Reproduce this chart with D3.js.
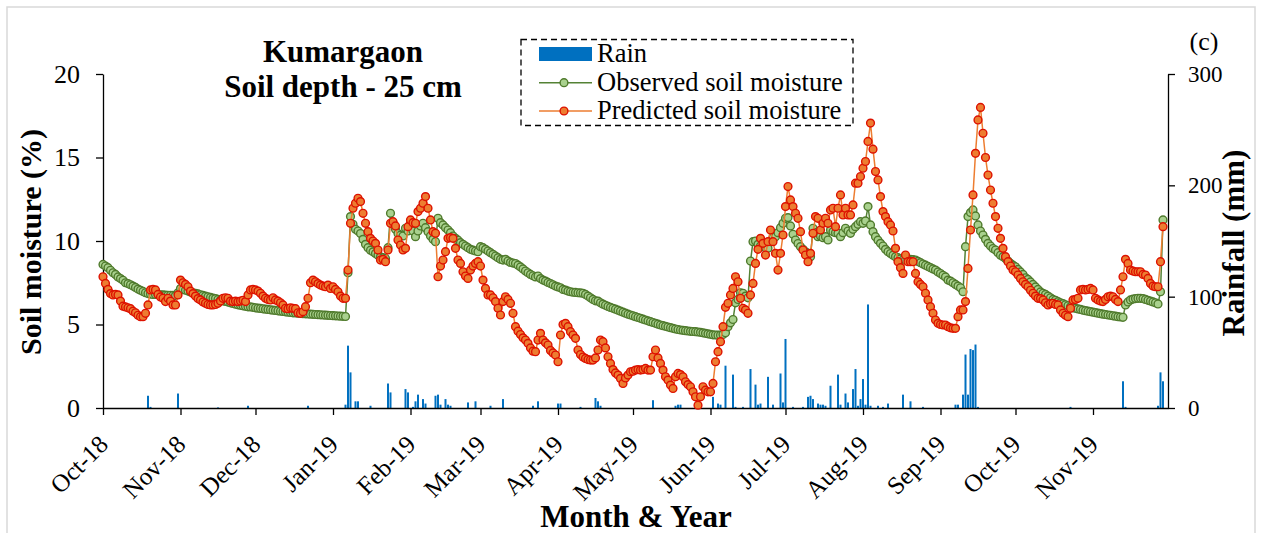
<!DOCTYPE html>
<html><head><meta charset="utf-8">
<script src="https://cdn.jsdelivr.net/npm/d3@7"></script>
<style>
body{margin:0;background:#fff}
svg{display:block}
text{font-family:"Liberation Serif","Times New Roman",serif;fill:#000}
</style>
</head><body>
<svg id="chart" width="1261" height="533"></svg>
<script>
// ---------- DATA ----------
const startYear = 2018, startMonth = 9, startDay = 1; // Oct 1 2018 (day index 0)
const monthLabels = ["Oct-18","Nov-18","Dec-18","Jan-19","Feb-19","Mar-19","Apr-19","May-19","Jun-19","Jul-19","Aug-19","Sep-19","Oct-19","Nov-19"];
const leftTicks = [0,5,10,15,20];
const rightTicks = [0,100,200,300];

// Observed soil moisture (%), daily from Oct 1 2018
const observed = [
8.6,8.5,8.4,8.25,8.1,8.0,7.85,7.75,7.65,7.5,
7.45,7.38,7.3,7.22,7.12,7.05,6.98,6.9,6.85,6.82,
6.8,6.8,6.78,6.78,6.77,6.76,6.75,6.75,6.74,6.73,
6.9,7.15,7.1,7.05,7.0,6.95,6.9,6.87,6.83,6.78,
6.74,6.7,6.66,6.62,6.58,6.55,6.5,6.46,6.42,6.38,
6.34,6.3,6.26,6.22,6.18,6.15,6.12,6.09,6.06,6.05,
6.03,6.0,5.98,5.96,5.94,5.92,5.9,5.88,5.86,5.84,
5.82,5.8,5.78,5.76,5.74,5.72,5.7,5.69,5.68,5.66,
5.65,5.64,5.63,5.62,5.61,5.6,5.59,5.58,5.57,5.56,
5.55,5.54,5.53,5.52,5.51,5.5,5.49,5.48,8.1,11.46,
11.0,10.7,10.6,10.45,10.1,9.8,9.6,9.45,9.35,9.25,
9.15,9.05,9.0,8.95,9.6,11.66,11.1,10.7,10.45,10.35,
10.3,10.76,10.6,11.06,10.6,10.26,10.6,10.9,11.06,10.8,
10.56,10.3,10.1,9.96,11.36,11.1,10.96,10.8,10.66,10.5,
10.3,10.16,10.05,9.9,9.8,9.7,9.6,9.5,9.45,9.4,
9.36,9.66,9.6,9.5,9.4,9.3,9.2,9.1,9.0,8.9,
8.86,8.9,8.8,8.72,8.68,8.65,8.55,8.45,8.33,8.2,
8.1,8.0,7.92,7.85,7.9,7.75,7.66,7.6,7.52,7.45,
7.38,7.3,7.25,7.2,7.1,7.06,7.0,6.96,6.93,6.92,
6.9,6.89,6.87,6.8,6.7,6.6,6.5,6.42,6.4,6.3,
6.22,6.15,6.08,6.02,5.97,5.92,5.86,5.8,5.74,5.68,
5.62,5.57,5.52,5.47,5.42,5.37,5.32,5.27,5.22,5.17,
5.12,5.07,5.02,4.97,4.93,4.89,4.85,4.81,4.77,4.73,
4.7,4.67,4.65,4.63,4.61,4.59,4.58,4.57,4.55,4.53,
4.5,4.47,4.44,4.41,4.38,4.37,4.36,4.36,4.4,4.5,
4.87,5.1,5.3,6.3,6.5,6.9,6.87,6.7,6.6,8.8,
9.96,10.0,9.8,9.7,9.66,9.6,9.56,10.0,10.2,10.26,
10.5,10.8,11.06,11.36,11.4,10.9,10.4,10.06,9.85,9.66,
9.5,9.35,9.26,9.06,10.76,10.5,10.26,10.3,10.2,10.26,
10.06,10.66,10.55,10.5,10.46,10.26,10.5,10.76,10.6,10.46,
10.7,10.86,11.0,11.16,11.06,11.2,12.06,10.96,10.56,10.26,
10.05,9.86,9.7,9.5,9.36,9.25,9.15,9.06,9.0,8.93,
8.86,8.86,8.9,8.9,8.88,8.86,8.78,8.7,8.62,8.55,
8.48,8.4,8.33,8.26,8.15,8.05,7.95,7.85,7.66,7.6,
7.5,7.4,7.3,7.2,6.96,9.66,11.46,11.7,11.86,11.5,
10.96,10.6,10.36,10.1,9.86,9.7,9.55,9.46,9.3,9.15,
9.06,8.95,8.8,8.66,8.55,8.46,8.3,8.15,8.0,7.8,
7.7,7.55,7.4,7.25,7.1,6.95,6.87,6.8,6.7,6.6,
6.5,6.45,6.37,6.3,6.25,6.18,6.12,6.06,6.0,5.97,
5.93,5.9,5.86,5.83,5.8,5.77,5.74,5.71,5.68,5.65,
5.62,5.6,5.57,5.55,5.52,5.5,5.47,5.45,5.43,6.17,
6.35,6.47,6.52,6.55,6.57,6.57,6.55,6.5,6.45,6.4,
6.35,6.3,6.23,6.96,11.26
];

// Predicted soil moisture (%), daily from Oct 1 2018
const predicted = [
7.86,7.46,7.1,6.85,6.77,6.8,6.77,6.4,6.1,6.05,
6.0,5.95,5.8,5.7,5.55,5.47,5.47,5.67,6.17,7.07,
7.1,7.07,6.8,6.65,6.57,6.37,6.57,6.4,6.17,6.17,
6.77,7.66,7.5,7.4,7.26,7.0,6.85,6.7,6.55,6.47,
6.35,6.27,6.2,6.17,6.17,6.2,6.27,6.4,6.57,6.6,
6.57,6.4,6.37,6.4,6.37,6.4,6.45,6.37,6.77,7.07,
7.1,7.07,7.0,6.87,6.7,6.57,6.5,6.47,6.6,6.47,
6.4,6.3,6.17,5.97,5.95,6.0,5.97,5.95,5.7,5.67,
5.77,6.07,6.57,7.5,7.66,7.56,7.45,7.36,7.3,7.26,
7.36,7.16,7.26,7.1,6.96,6.7,6.57,6.57,8.26,11.06,
11.96,12.26,12.56,12.36,11.66,11.06,10.56,10.16,10.0,9.86,
9.46,8.86,8.9,8.76,9.46,11.06,11.16,10.9,10.06,9.76,
9.46,9.56,10.86,11.26,11.1,11.06,11.76,11.96,12.26,12.66,
11.96,11.26,10.56,10.46,7.86,8.5,8.86,9.36,10.16,10.2,
10.16,9.56,8.86,8.66,8.16,7.9,7.76,8.26,8.5,8.66,
8.76,8.5,7.66,7.16,6.77,6.77,6.6,6.37,5.97,5.57,
6.37,6.66,6.5,6.27,5.67,4.87,4.6,4.4,4.2,4.07,
3.87,3.6,3.4,3.37,4.07,4.47,4.07,3.9,3.77,3.45,
3.3,3.17,2.77,4.37,5.0,5.07,4.87,4.57,4.37,4.17,
3.47,3.2,3.05,2.97,2.9,2.87,2.87,3.0,3.47,4.07,
3.97,3.6,3.07,2.67,2.3,2.1,1.97,1.77,1.47,1.8,
1.97,2.17,2.2,2.27,2.3,2.27,2.3,2.37,2.27,2.27,
3.07,3.47,3.0,2.67,2.27,1.87,1.67,1.37,1.17,1.87,
2.07,2.0,1.87,1.57,1.4,1.27,0.97,0.67,0.17,0.67,
1.27,1.07,0.97,0.97,1.47,2.77,3.37,3.97,4.87,6.03,
6.27,6.77,7.16,7.86,7.56,6.57,5.97,5.87,5.67,6.77,
7.46,8.66,9.5,10.16,9.86,9.16,9.96,10.66,9.96,9.26,
8.26,9.26,10.36,12.06,13.26,12.46,12.06,11.66,11.36,10.56,
9.46,9.16,8.76,9.26,10.46,11.46,11.36,10.66,11.06,11.36,
11.06,11.86,11.96,10.86,11.96,12.76,11.56,11.96,11.56,11.56,
12.16,13.46,13.46,13.86,14.36,14.76,15.96,17.06,15.5,14.16,
13.66,12.66,11.76,11.46,11.16,10.96,10.6,9.56,8.76,8.4,
8.06,9.16,8.76,8.76,8.76,8.06,7.56,7.4,7.26,6.87,
6.47,6.07,5.67,5.27,5.07,5.0,4.97,4.97,4.87,4.8,
4.77,4.77,5.47,5.87,5.87,6.37,8.36,10.66,12.76,15.25,
17.25,18.0,16.45,15.0,13.95,13.05,12.26,11.46,10.76,10.16,
9.56,9.06,8.76,8.5,8.26,8.16,7.96,7.76,7.56,7.4,
7.26,7.05,6.87,6.7,6.57,6.55,6.47,6.3,6.17,6.25,
6.27,6.2,6.17,5.87,5.67,5.55,5.47,5.97,6.47,6.5,
6.57,7.07,7.1,7.07,7.1,7.16,7.07,6.57,6.47,6.4,
6.37,6.5,6.66,6.7,6.66,6.5,6.37,7.07,7.86,8.9,
8.66,8.26,8.2,8.16,8.16,8.16,8.0,7.96,7.76,7.46,
7.3,7.26,7.26,8.76,10.86
];

// Rainfall (mm): day index since Oct 1 2018 and amount
const rainDays = [18,19,30,46,58,82,97,98,99,101,102,107,114,115,121,122,124,125,126,128,129,133,134,135,137,138,139,146,149,155,160,172,174,182,183,191,197,198,199,220,229,230,231,244,246,247,249,252,253,256,259,261,262,263,266,268,271,272,273,276,280,282,283,284,286,287,288,289,291,294,295,297,298,300,301,302,303,304,305,306,307,310,312,314,320,323,328,341,342,344,345,346,347,348,349,350,387,408,409,422,423,424];
const rainMM   = [11,1,13,0.5,2,2,3,56,32,6,6,2,22,14,17,14,1,6,12,8,4,11,12,3,8,3,2,5,6,2,8,2,6,4,4,1,9,6,2,7,2,3,3,10,4,3,38,30,1,1,35,21,3,4,28,3,31,5,62,1,1,10,11,8,4,3,3,2,20,30,3,13,5,17,35,2,8,26,3,93,2,2,1,4,12,6,1,3,3,12,48,12,53,52,57,1,1,24,1,2,32,24];

// ---------- CHART ----------
const svg = d3.select("#chart");
const day = i => new Date(Date.UTC(startYear, startMonth, startDay + i));
const x = d3.scaleUtc().domain([day(0), new Date(Date.UTC(2019, 11, 1))]).range([103, 1168]);
const yL = d3.scaleLinear().domain([0, 20]).range([408, 74]);
const yR = d3.scaleLinear().domain([0, 300]).range([408, 74]);

// outer frame
svg.append("rect").attr("x", 7).attr("y", 7).attr("width", 1248).attr("height", 540)
  .attr("fill", "none").attr("stroke", "#d9d9d9").attr("stroke-width", 1.5);

// rain bars
svg.append("g").selectAll("rect")
  .data(rainDays.map((d, i) => ({ d, v: rainMM[i] })))
  .join("rect")
  .attr("x", p => x(day(p.d)) - 1)
  .attr("width", 2)
  .attr("y", p => yR(p.v))
  .attr("height", p => yR(0) - yR(p.v))
  .attr("fill", "#0070c0");

// axes
const axisStyle = g => {
  g.selectAll("path,line").attr("stroke", "#000").attr("stroke-width", 1.3);
};
const gL = svg.append("g").attr("transform", "translate(103,0)")
  .call(d3.axisLeft(yL).tickValues(leftTicks).tickSize(7).tickSizeOuter(0).tickPadding(16))
  .call(axisStyle);
gL.selectAll("text").style("font-size", "26px");

const gR = svg.append("g").attr("transform", "translate(1168,0)")
  .call(d3.axisRight(yR).tickValues(rightTicks).tickSize(7).tickSizeOuter(0).tickPadding(13))
  .call(axisStyle);
gR.selectAll("text").style("font-size", "23px");

const monthDates = monthLabels.map((m, i) => d3.utcMonth.offset(day(0), i));
const gB = svg.append("g").attr("transform", "translate(0,408)")
  .call(d3.axisBottom(x).tickValues(monthDates).tickFormat((d, i) => monthLabels[i]).tickSize(7).tickSizeOuter(0))
  .call(axisStyle);
gB.selectAll("text")
  .style("font-size", "25px")
  .attr("text-anchor", "end")
  .attr("dy", null)
  .attr("y", null)
  .attr("transform", "translate(6,38) rotate(-45)");

// observed series
const line = d3.line().x((v, i) => x(day(i))).y(v => yL(v));
svg.append("path").datum(observed).attr("d", line)
  .attr("fill", "none").attr("stroke", "#548235").attr("stroke-width", 1.5);
svg.append("g").selectAll("circle").data(observed).join("circle")
  .attr("cx", (v, i) => x(day(i))).attr("cy", v => yL(v)).attr("r", 3.9)
  .attr("fill", "#a9d18e").attr("stroke", "#4f7a2c").attr("stroke-width", 1.4);

// predicted series
svg.append("path").datum(predicted).attr("d", line)
  .attr("fill", "none").attr("stroke", "#ed7d31").attr("stroke-width", 1.5);
svg.append("g").selectAll("circle").data(predicted).join("circle")
  .attr("cx", (v, i) => x(day(i))).attr("cy", v => yL(v)).attr("r", 3.9)
  .attr("fill", "#ed7d31").attr("stroke", "#dd1100").attr("stroke-width", 1.4);

// titles
svg.append("text").attr("x", 343).attr("y", 62).attr("text-anchor", "middle")
  .style("font-size", "31px").attr("font-weight", "bold").text("Kumargaon");
svg.append("text").attr("x", 343).attr("y", 97).attr("text-anchor", "middle")
  .style("font-size", "31px").attr("font-weight", "bold").text("Soil depth - 25 cm");
svg.append("text").attr("x", 1204).attr("y", 50).attr("text-anchor", "middle")
  .style("font-size", "26px").text("(c)");

svg.append("text").attr("transform", "translate(41,242) rotate(-90)").attr("text-anchor", "middle")
  .style("font-size", "30px").attr("font-weight", "bold").text("Soil moisture (%)");
svg.append("text").attr("transform", "translate(1244,243) rotate(-90)").attr("text-anchor", "middle")
  .style("font-size", "31px").attr("font-weight", "bold").text("Rainfall (mm)");
svg.append("text").attr("x", 636).attr("y", 527).attr("text-anchor", "middle")
  .style("font-size", "31px").attr("font-weight", "bold").text("Month & Year");

// legend
const lg = svg.append("g");
lg.append("rect").attr("x", 521).attr("y", 39.5).attr("width", 332).attr("height", 86)
  .attr("fill", "#fff").attr("stroke", "#000").attr("stroke-width", 1.3).attr("stroke-dasharray", "6,4");
lg.append("rect").attr("x", 539).attr("y", 47).attr("width", 53).attr("height", 14).attr("fill", "#0070c0");
lg.append("text").attr("x", 597).attr("y", 62).style("font-size", "26.5px").text("Rain");
lg.append("line").attr("x1", 539).attr("x2", 592).attr("y1", 82.7).attr("y2", 82.7)
  .attr("stroke", "#548235").attr("stroke-width", 1.5);
lg.append("circle").attr("cx", 564).attr("cy", 82.7).attr("r", 3.9)
  .attr("fill", "#a9d18e").attr("stroke", "#4f7a2c").attr("stroke-width", 1.4);
lg.append("text").attr("x", 597).attr("y", 91).style("font-size", "26.5px").text("Observed soil moisture");
lg.append("line").attr("x1", 539).attr("x2", 592).attr("y1", 111).attr("y2", 111)
  .attr("stroke", "#ed7d31").attr("stroke-width", 1.5);
lg.append("circle").attr("cx", 564).attr("cy", 111).attr("r", 3.9)
  .attr("fill", "#ed7d31").attr("stroke", "#dd1100").attr("stroke-width", 1.4);
lg.append("text").attr("x", 597).attr("y", 119).style("font-size", "26.5px").text("Predicted soil moisture");
</script>
</body></html>
